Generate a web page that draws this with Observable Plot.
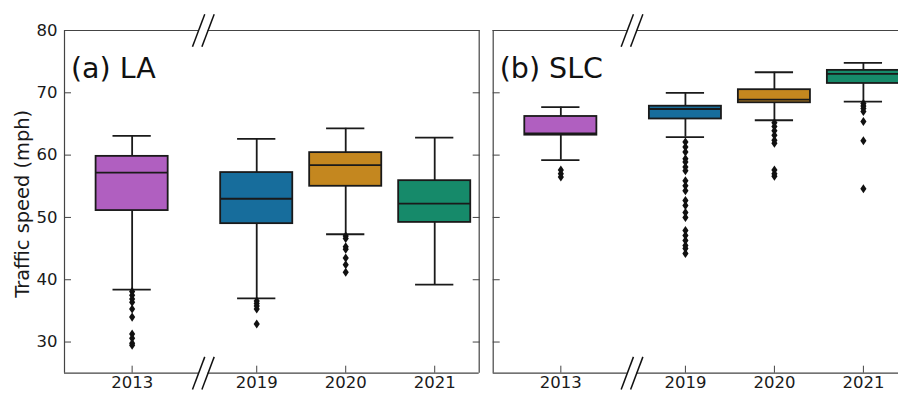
<!DOCTYPE html>
<html><head><meta charset="utf-8">
<script src="https://cdn.jsdelivr.net/npm/d3@7"></script>
<script src="https://cdn.jsdelivr.net/npm/@observablehq/plot@0.6"></script>
<style>
html,body{margin:0;padding:0;background:#fff;overflow:hidden}
#wrap{position:relative;width:898px;height:393px;overflow:hidden;background:#fff}
#wrap svg{position:absolute;top:0}
</style></head><body><div id="wrap"></div>
<script>
// ---- data ----
const years = ["2013", "2019", "2020", "2021"];
const yTicks = [30, 40, 50, 60, 70, 80];

// LA summary
const laLow    = [38.4, 37.0, 47.3, 39.2];
const laQ1     = [51.1, 49.0, 55.0, 49.2];
const laMedian = [57.2, 53.0, 58.4, 52.2];
const laQ3     = [59.8, 57.2, 60.4, 55.9];
const laHigh   = [63.1, 62.6, 64.3, 62.8];
const laOutliers = [
  [38.1, 37.5, 36.9, 36.4, 35.3, 34.0, 31.3, 30.6, 29.8, 29.5],
  [36.6, 36.2, 35.8, 35.3, 32.9],
  [47.0, 46.6, 45.3, 44.9, 43.5, 42.4, 41.2],
  []
];

// SLC summary
const slcLow    = [59.2, 62.9, 65.6, 68.6];
const slcQ1     = [63.2, 65.8, 68.4, 71.5];
const slcMedian = [63.5, 67.4, 68.9, 73.05];
const slcQ3     = [66.2, 67.85, 70.5, 73.6];
const slcHigh   = [67.7, 70.0, 73.3, 74.8];
const slcOutliers = [
  [57.6, 57.0, 56.5],
  [62.1, 61.3, 60.5, 59.4, 58.9, 58.1, 57.5, 55.9, 55.1, 54.3, 52.7, 51.9, 50.8, 50.0, 47.9, 47.1, 46.3, 45.5, 45.0, 44.2],
  [65.2, 64.6, 63.9, 63.2, 62.4, 61.9, 57.6, 57.0, 56.6],
  [68.3, 67.9, 67.5, 67.0, 65.4, 62.3, 54.6]
];

const palette = ["#B05FC0", "#176D9C", "#C4871F", "#168A6A"];

// ---- layout helpers ----
const gapAfterFirst = 0.4;               // broken-axis gap between 2013 and 2019
const xPos = i => i === 0 ? 0 : i + gapAfterFirst;
const positions = years.map((_, i) => xPos(i));
const posLabel = new Map(positions.map((p, i) => [p, years[i]]));
const xDomain = [-0.76, 3.9];
const yDomain = [25, 80];
const breakC = 0.8, breakHalf = 0.053;
const boxHalf = 0.405, capHalf = 0.215;
const lineColor = "#1a1a1a", frameColor = "#444";

const thinDiamond = {
  draw(ctx, size) {
    const r = Math.sqrt(size / Math.PI);
    const h = r * 1.1, w = r * 0.75;
    ctx.moveTo(0, -h); ctx.lineTo(w, 0); ctx.lineTo(0, h); ctx.lineTo(-w, 0); ctx.closePath();
  }
};

function panel(title, low, q1, med, q3, high, outliers, opts) {
  const boxes = years.map((year, i) => ({year, pos: xPos(i), lo: low[i], q1: q1[i], med: med[i], q3: q3[i], hi: high[i]}));
  const pts = outliers.flatMap((vals, i) => vals.map(v => ({year: years[i], pos: xPos(i), v})));
  const frameH = [];
  for (const y of yDomain) {
    frameH.push({y, x1: xDomain[0], x2: breakC - breakHalf});
    frameH.push({y, x1: breakC + breakHalf, x2: xDomain[1]});
  }
  const slashDx = 0.069, slashDy = 2.62;
  const slashes = [];
  for (const y of yDomain) for (const b of [breakC - breakHalf, breakC + breakHalf])
    slashes.push({x1: b - slashDx, y1: y - slashDy, x2: b + slashDx, y2: y + slashDy});

  const marks = [
    Plot.ruleY(frameH, {y: "y", x1: "x1", x2: "x2", stroke: frameColor, strokeWidth: 1.2}),
    Plot.ruleX(xDomain, {y1: yDomain[0], y2: yDomain[1], stroke: frameColor, strokeWidth: 1.2}),
    Plot.ruleX(boxes, {x: "pos", y1: "q3", y2: "hi", stroke: lineColor, strokeWidth: 1.8}),
    Plot.ruleX(boxes, {x: "pos", y1: "lo", y2: "q1", stroke: lineColor, strokeWidth: 1.8}),
    Plot.ruleY(boxes, {y: "hi", x1: d => d.pos - capHalf, x2: d => d.pos + capHalf, stroke: lineColor, strokeWidth: 1.8}),
    Plot.ruleY(boxes, {y: "lo", x1: d => d.pos - capHalf, x2: d => d.pos + capHalf, stroke: lineColor, strokeWidth: 1.8}),
    Plot.rectY(boxes, {x1: d => d.pos - boxHalf, x2: d => d.pos + boxHalf, y1: "q1", y2: "q3", fill: "year", stroke: lineColor, strokeWidth: 1.8}),
    Plot.ruleY(boxes, {y: "med", x1: d => d.pos - boxHalf, x2: d => d.pos + boxHalf, stroke: lineColor, strokeWidth: 1.8}),
    Plot.dot(pts, {x: "pos", y: "v", symbol: thinDiamond, r: 4.1, fill: "#111", stroke: "none"}),
    Plot.axisX({anchor: "bottom", ticks: positions, tickSize: -7, fill: "none", stroke: frameColor, label: null}),
    Plot.axisX({anchor: "bottom", ticks: positions, tickSize: 0, tickPadding: 3.5, tickFormat: d => posLabel.get(d), fill: "#1a1a1a", fontSize: 16.5, label: null}),
    Plot.axisY({anchor: "left", ticks: yTicks, tickSize: -7, fill: "none", stroke: frameColor, label: null}),
    Plot.axisY({anchor: "right", ticks: yTicks, tickSize: -7, fill: "none", stroke: frameColor, label: null}),
    Plot.link(slashes, {x1: "x1", y1: "y1", x2: "x2", y2: "y2", stroke: "#111", strokeWidth: 1.5}),
    Plot.text([title], {frameAnchor: "top-left", dx: 6.5, dy: 27.2, lineAnchor: "top", textAnchor: "start", fontSize: 28.5, fill: "#111"})
  ];
  if (opts.yLabels) {
    marks.push(Plot.axisY({anchor: "left", ticks: yTicks, tickSize: 0, tickPadding: 7, fill: "#1a1a1a", fontSize: 16.5, label: null}));
    marks.push(Plot.text(["Traffic speed (mph)"], {frameAnchor: "left", rotate: -90, dx: -42, dy: 2, textAnchor: "middle", lineAnchor: "middle", fontSize: 19.4, fill: "#1a1a1a"}));
  }
  return Plot.plot({
    width: opts.width, height: 393,
    marginTop: 30, marginBottom: 20.3, marginLeft: opts.marginLeft, marginRight: opts.marginRight,
    style: {fontFamily: "DejaVu Sans", fontSize: "16px", background: "transparent", overflow: "visible"},
    x: {domain: xDomain},
    y: {domain: yDomain},
    color: {domain: years, range: palette},
    marks
  });
}

const wrap = document.getElementById("wrap");
const left = panel("(a) LA", laLow, laQ1, laMedian, laQ3, laHigh, laOutliers, {width: 480, marginLeft: 64, marginRight: 1.3, yLabels: true});
left.style.left = "0px";
wrap.appendChild(left);
const right = panel("(b) SLC", slcLow, slcQ1, slcMedian, slcQ3, slcHigh, slcOutliers, {width: 430, marginLeft: 12.7, marginRight: 2.6, yLabels: false});
right.style.left = "480px";
wrap.appendChild(right);
</script></body></html>
